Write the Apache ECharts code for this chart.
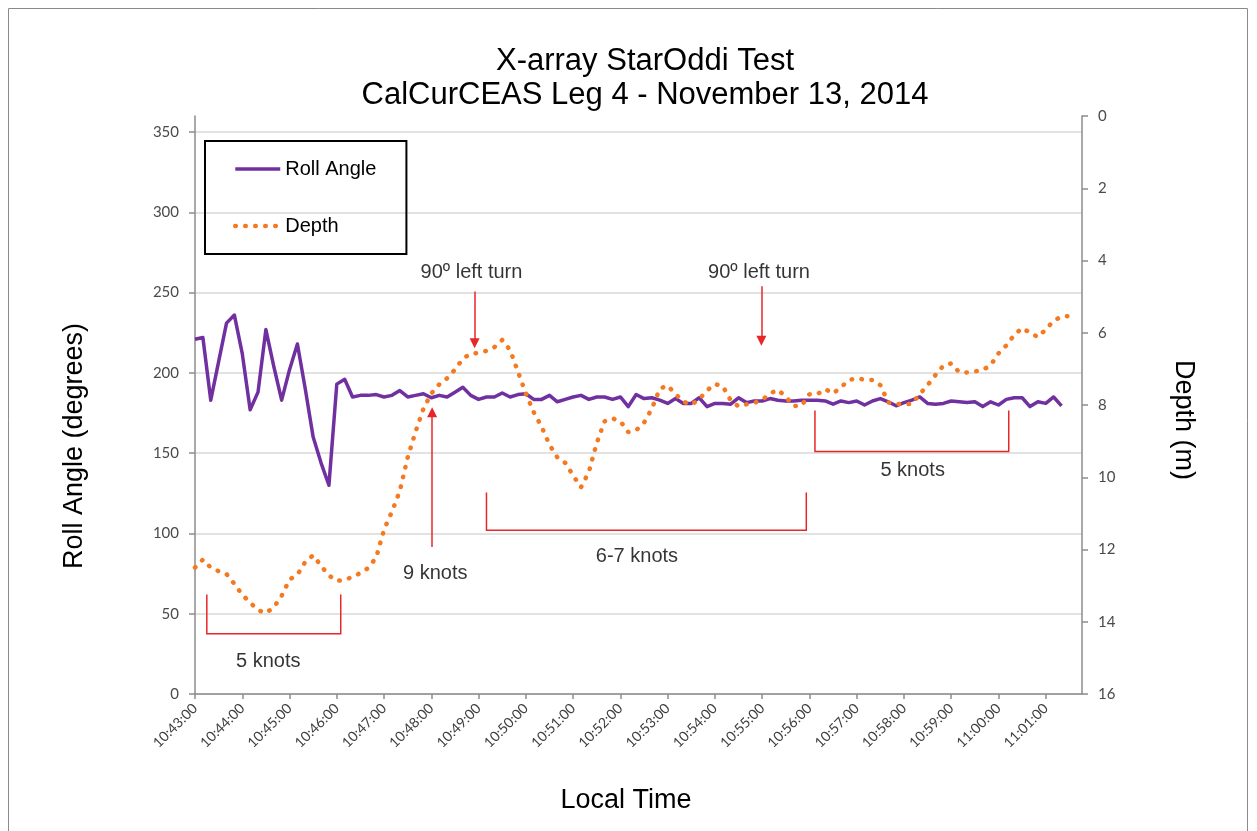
<!DOCTYPE html>
<html>
<head>
<meta charset="utf-8">
<title>X-array StarOddi Test</title>
<script src="https://cdn.jsdelivr.net/npm/echarts@6/dist/echarts.min.js"></script>
<style>
    html, body { margin: 0; padding: 0; background: #fff; }
    #chart { width: 1257px; height: 831px; }
</style>
</head>
<body>
<div id="chart"></div>
<script>
// one sample every 10 s, first one at 10:43:00
var stepSeconds = 10;
var rollAngle = [
    221, 222, 183, 207, 231, 236, 212, 177, 188, 227,
    204, 183, 202, 218, 190, 160, 144, 130, 193, 196,
    185, 186, 186, 186.5, 185, 186, 189, 185, 186, 187,
    184.5, 186, 185, 188, 191, 186, 183.5, 185, 185, 187.5,
    185, 186.5, 187, 183.5, 183.5, 186, 182, 183.5, 185, 186,
    183.5, 185, 185, 183.5, 185, 179, 186.5, 184, 184.5, 183,
    181, 184, 181, 181, 184.5, 179, 181, 181, 180.5, 184.5,
    181.5, 182.5, 182.5, 184, 183, 182.5, 182.5, 183, 183, 183,
    182.5, 180.5, 182.5, 181.5, 182.5, 180, 182.5, 184, 182, 179.5,
    181.5, 183, 185, 181, 180.5, 181, 182.5, 182, 181.5, 182,
    179, 182, 180, 183.5, 184.5, 184.5, 179, 182, 181, 185,
    179.5
];
var depth = [
    12.5, 12.28, 12.5, 12.6, 12.68, 12.95, 13.25, 13.47, 13.68, 13.76,
    13.6, 13.28, 12.83, 12.7, 12.34, 12.16, 12.45, 12.72, 12.87, 12.84,
    12.76, 12.65, 12.51, 12.22, 11.45, 10.95, 10.38, 9.45, 8.74, 8.1,
    7.68, 7.43, 7.26, 7.02, 6.72, 6.58, 6.56, 6.5, 6.4, 6.2,
    6.48, 7.08, 7.68, 8.2, 8.6, 9.1, 9.45, 9.6, 9.95, 10.28,
    9.85, 9.05, 8.45, 8.37, 8.45, 8.75, 8.7, 8.49, 8.1, 7.55,
    7.46, 7.7, 7.91, 7.99, 7.84, 7.6, 7.42, 7.48, 7.87, 8.04,
    7.98, 7.94, 7.86, 7.68, 7.58, 7.77, 8.03, 8.02, 7.7, 7.7,
    7.56, 7.68, 7.51, 7.31, 7.26, 7.3, 7.31, 7.45, 7.93, 7.97,
    7.98, 7.97, 7.7, 7.45, 7.17, 6.91, 6.85, 7.09, 7.1, 7.07,
    7.03, 6.9, 6.57, 6.35, 6.06, 5.87, 6.0, 6.12, 5.91, 5.67,
    5.55, 5.54
];
var timeLabels = ['10:43:00', '10:44:00', '10:45:00', '10:46:00', '10:47:00', '10:48:00', '10:49:00',
    '10:50:00', '10:51:00', '10:52:00', '10:53:00', '10:54:00', '10:55:00', '10:56:00', '10:57:00',
    '10:58:00', '10:59:00', '11:00:00', '11:01:00'];

// annotations, in axis units: [seconds after 10:43:00, roll angle]
var brackets = [
    [[15, 62], [15, 37.5], [185, 37.5], [185, 62]],
    [[370, 125.5], [370, 102], [776, 102], [776, 125.5]],
    [[787, 176.5], [787, 151], [1033, 151], [1033, 176.5]]
];
var arrows = [
    [[301, 91.5], [301, 175.5]],
    [[355, 250.7], [355, 218.5]],
    [[719, 253.9], [719, 220]]
];
var notes = [
    [351, 262.3, '90º left turn'],
    [716, 262.6, '90º left turn'],
    [305, 75.2, '9 knots'],
    [93, 20.1, '5 knots'],
    [561, 85.6, '6-7 knots'],
    [911, 139.2, '5 knots']
];

var tickFont = 'Lato';
var textFont = 'Liberation Sans';

var myChart = echarts.init(document.getElementById('chart'));

var option = {
    backgroundColor: '#fff',
    animation: false,
    grid: {
        left: 195, right: 175, top: 116, bottom: 137,
        outerBoundsMode: 'none'
    },
    legend: {
        data: ['Roll Angle', 'Depth'],
        orient: 'vertical',
        left: 205,
        top: 141,
        padding: [18, 30, 18, 28],
        itemGap: 37,
        itemWidth: 45,
        itemHeight: 18,
        borderColor: '#000',
        borderWidth: 2,
        itemStyle: { color: 'rgba(0,0,0,0)', borderWidth: 0 },
        lineStyle: { width: 'inherit' },
        textStyle: { fontFamily: textFont, fontSize: 20, color: '#000' }
    },
    xAxis: {
        type: 'value',
        min: 0,
        max: 1126,
        interval: 60,
        axisLine: { show: true, onZero: false, lineStyle: { color: '#8c8c8c', width: 1.5 } },
        axisTick: { show: true, length: 5, lineStyle: { color: '#8c8c8c', width: 1.5 } },
        splitLine: { show: false },
        axisLabel: {
            rotate: 45,
            margin: 12,
            showMaxLabel: false,
            fontFamily: tickFont,
            fontSize: 14,
            color: '#404040',
            formatter: function (value) {
                return timeLabels[value / 60] || '';
            }
        }
    },
    yAxis: [
        {
            type: 'value',
            min: 0,
            max: 360,
            interval: 50,
            axisLine: { show: true, lineStyle: { color: '#8c8c8c', width: 1.5 } },
            axisTick: { show: true, length: 6, lineStyle: { color: '#8c8c8c', width: 1.5 } },
            splitLine: { show: true, showMaxLine: false, lineStyle: { color: '#d9d9d9', width: 1.5 } },
            axisLabel: { showMaxLabel: false, margin: 16, fontFamily: tickFont, fontSize: 15, color: '#4a4a4a' }
        },
        {
            type: 'value',
            position: 'right',
            inverse: true,
            min: 0,
            max: 16,
            interval: 2,
            axisLine: { show: true, lineStyle: { color: '#8c8c8c', width: 1.5 } },
            axisTick: { show: true, length: 6, lineStyle: { color: '#8c8c8c', width: 1.5 } },
            splitLine: { show: false },
            axisLabel: { margin: 16, fontFamily: tickFont, fontSize: 15, color: '#4a4a4a' }
        }
    ],
    series: [
        {
            name: 'Roll Angle',
            type: 'line',
            yAxisIndex: 0,
            symbol: 'none',
            color: '#7030a0',
            lineStyle: { color: '#7030a0', width: 3.5, join: 'round' },
            data: rollAngle.map((v, i) => [i * stepSeconds, v])
        },
        {
            name: 'Depth',
            type: 'line',
            yAxisIndex: 1,
            symbol: 'none',
            color: '#f47920',
            lineStyle: { color: '#f47920', width: 4.5, type: [0.5, 9.5], cap: 'round' },
            data: depth.map((v, i) => [i * stepSeconds, v])
        },
        {
            type: 'lines',
            coordinateSystem: 'cartesian2d',
            polyline: true,
            silent: true,
            symbol: 'none',
            lineStyle: { color: '#e8262a', width: 1.5, opacity: 1 },
            data: brackets.map(b => ({ coords: b }))
        },
        {
            type: 'lines',
            coordinateSystem: 'cartesian2d',
            silent: true,
            symbol: ['none', 'triangle'],
            symbolSize: 10,
            lineStyle: { color: '#e8262a', width: 1.5, opacity: 1 },
            data: arrows.map(a => ({ coords: a }))
        },
        {
            type: 'scatter',
            silent: true,
            symbolSize: 0,
            label: {
                show: true,
                position: 'inside',
                fontFamily: textFont,
                fontSize: 20,
                color: '#000',
                textBorderWidth: 0,
                formatter: p => p.value[2]
            },
            data: notes
        }
    ],
    graphic: [
        {
            type: 'rect',
            shape: { x: 8.5, y: 8.5, width: 1239, height: 900 },
            style: { fill: 'none', stroke: '#8a8a8a', lineWidth: 1 }
        },
        {
            type: 'text', x: 645, y: 61,
            style: { text: 'X-array StarOddi Test', font: '31px "Liberation Sans"', fill: '#000', align: 'center', verticalAlign: 'middle' }
        },
        {
            type: 'text', x: 645, y: 95,
            style: { text: 'CalCurCEAS Leg 4 - November 13, 2014', font: '31px "Liberation Sans"', fill: '#000', align: 'center', verticalAlign: 'middle' }
        },
        {
            type: 'text', x: 75, y: 446, rotation: Math.PI / 2,
            style: { text: 'Roll Angle (degrees)', font: '27px "Liberation Sans"', fill: '#000', align: 'center', verticalAlign: 'middle' }
        },
        {
            type: 'text', x: 1183, y: 420, rotation: -Math.PI / 2,
            style: { text: 'Depth (m)', font: '27px "Liberation Sans"', fill: '#000', align: 'center', verticalAlign: 'middle' }
        },
        {
            type: 'text', x: 626, y: 801,
            style: { text: 'Local Time', font: '27px "Liberation Sans"', fill: '#000', align: 'center', verticalAlign: 'middle' }
        }
    ]
};

myChart.setOption(option);
</script>
</body>
</html>
